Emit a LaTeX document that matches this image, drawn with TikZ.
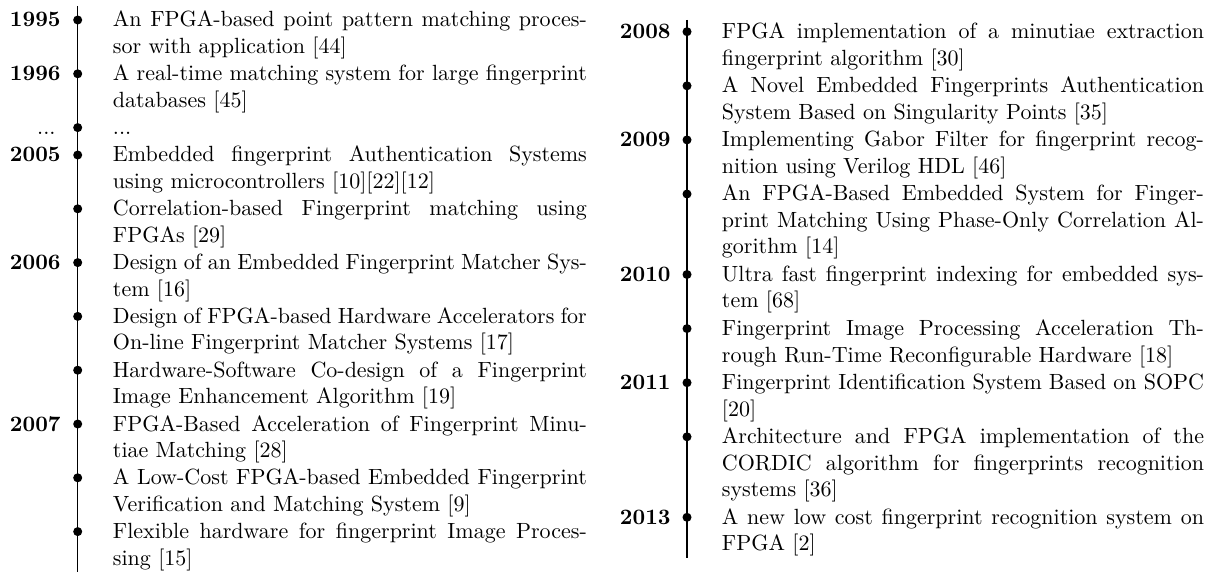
\documentclass[tikz,border=0pt]{standalone}
% one justified line / a closing line of an entry
\newcommand\fullline[1]{\hbox to\hsize{#1}}
\newcommand\lastline[1]{\hbox{#1}}
% entry paragraphs, aligned on the baseline of their first line
\newcommand\lpar[1]{\vtop{\hsize=215.4pt #1}}
\newcommand\rpar[1]{\vtop{\hsize=219.1pt #1}}
\begin{document}
\begin{tikzpicture}[x=0.4545pt,y=-0.4545pt,
  year/.style={anchor=base east,inner sep=0pt,font=\bfseries},
  dot/.style={circle,fill=black,inner sep=0pt,minimum size=4.1pt},
  entry/.style={anchor=base west,inner sep=0pt},
  axis/.style={line width=0.6pt}]
\useasboundingbox (0,0) rectangle (1215,572);

% ---------------- left timeline ----------------
\coordinate (ltop) at (77.7,6);
\coordinate (lbot) at (77.7,572);
\draw[axis] (ltop) -- (lbot);

\node[year] (l1y) at (61,27) {1995};
\node[dot] (l1d) at (77.7,20) {};
\node[entry] (l1t) at (112.5,27) {\lpar{\fullline{An FPGA-based point pattern matching proces-}\lastline{sor with application [44]}}};

\node[year] (l2y) at (61,80.8) {1996};
\node[dot] (l2d) at (77.7,73.8) {};
\node[entry] (l2t) at (112.5,80.8) {\lpar{\fullline{A real-time matching system for large fingerprint}\lastline{databases [45]}}};

\node[year,font=\normalfont] (l3y) at (56,134.6) {...};
\node[dot] (l3d) at (77.7,127.6) {};
\node[entry] (l3t) at (112.5,134.6) {\lpar{\lastline{...}}};

\node[year] (l4y) at (61,162) {2005};
\node[dot] (l4d) at (77.7,155) {};
\node[entry] (l4t) at (112.5,162) {\lpar{\fullline{Embedded fingerprint Authentication Systems}\lastline{using microcontrollers [10][22][12]}}};

\node[dot] (l5d) at (77.7,208.8) {};
\node[entry] (l5t) at (112.5,215.8) {\lpar{\fullline{Correlation-based Fingerprint matching using}\lastline{FPGAs [29]}}};

\node[year] (l6y) at (61,269.6) {2006};
\node[dot] (l6d) at (77.7,262.6) {};
\node[entry] (l6t) at (112.5,269.6) {\lpar{\fullline{Design of an Embedded Fingerprint Matcher Sys-}\lastline{tem [16]}}};

\node[dot] (l7d) at (77.7,316.4) {};
\node[entry] (l7t) at (112.5,323.4) {\lpar{\fullline{Design of FPGA-based Hardware Accelerators for}\lastline{On-line Fingerprint Matcher Systems [17]}}};

\node[dot] (l8d) at (77.7,370.2) {};
\node[entry] (l8t) at (112.5,377.2) {\lpar{\fullline{Hardware-Software Co-design of a Fingerprint}\lastline{Image Enhancement Algorithm [19]}}};

\node[year] (l9y) at (61,431) {2007};
\node[dot] (l9d) at (77.7,424) {};
\node[entry] (l9t) at (112.5,431) {\lpar{\fullline{FPGA-Based Acceleration of Fingerprint Minu-}\lastline{tiae Matching [28]}}};

\node[dot] (l10d) at (77.7,477.8) {};
\node[entry] (l10t) at (112.5,484.8) {\lpar{\fullline{A Low-Cost FPGA-based Embedded Fingerprint}\lastline{Verification and Matching System [9]}}};

\node[dot] (l11d) at (77.7,531.6) {};
\node[entry] (l11t) at (112.5,538.6) {\lpar{\fullline{Flexible hardware for fingerprint Image Proces-}\lastline{sing [15]}}};

% ---------------- right timeline ----------------
\coordinate (rtop) at (687,20);
\coordinate (rbot) at (687,558);
\draw[axis] (rtop) -- (rbot);

\node[year] (r1y) at (671,38.7) {2008};
\node[dot] (r1d) at (687,31.7) {};
\node[entry] (r1t) at (721.5,38.7) {\rpar{\fullline{FPGA implementation of a minutiae extraction}\lastline{fingerprint algorithm [30]}}};

\node[dot] (r2d) at (687,85.8) {};
\node[entry] (r2t) at (721.5,92.8) {\rpar{\fullline{A Novel Embedded Fingerprints Authentication}\lastline{System Based on Singularity Points [35]}}};

\node[year] (r3y) at (671,146.9) {2009};
\node[dot] (r3d) at (687,139.9) {};
\node[entry] (r3t) at (721.5,146.9) {\rpar{\fullline{Implementing Gabor Filter for fingerprint recog-}\lastline{nition using Verilog HDL [46]}}};

\node[dot] (r4d) at (687,194) {};
\node[entry] (r4t) at (721.5,201) {\rpar{\fullline{An FPGA-Based Embedded System for Finger-}\fullline{print Matching Using Phase-Only Correlation Al-}\lastline{gorithm [14]}}};

\node[year] (r5y) at (671,281.5) {2010};
\node[dot] (r5d) at (687,274.5) {};
\node[entry] (r5t) at (721.5,281.5) {\rpar{\fullline{Ultra fast fingerprint indexing for embedded sys-}\lastline{tem [68]}}};

\node[dot] (r6d) at (687,328.6) {};
\node[entry] (r6t) at (721.5,335.6) {\rpar{\fullline{Fingerprint Image Processing Acceleration Th-}\lastline{rough Run-Time Reconfigurable Hardware [18]}}};

\node[year] (r7y) at (671,389.7) {2011};
\node[dot] (r7d) at (687,382.7) {};
\node[entry] (r7t) at (721.5,389.7) {\rpar{\fullline{Fingerprint Identification System Based on SOPC}\lastline{[20]}}};

\node[dot] (r8d) at (687,436.8) {};
\node[entry] (r8t) at (721.5,443.8) {\rpar{\fullline{Architecture and FPGA implementation of the}\fullline{CORDIC algorithm for fingerprints recognition}\lastline{systems [36]}}};

\node[year] (r9y) at (671,524.3) {2013};
\node[dot] (r9d) at (687,517.3) {};
\node[entry] (r9t) at (721.5,524.3) {\rpar{\fullline{A new low cost fingerprint recognition system on}\lastline{FPGA [2]}}};
\end{tikzpicture}
\end{document}
